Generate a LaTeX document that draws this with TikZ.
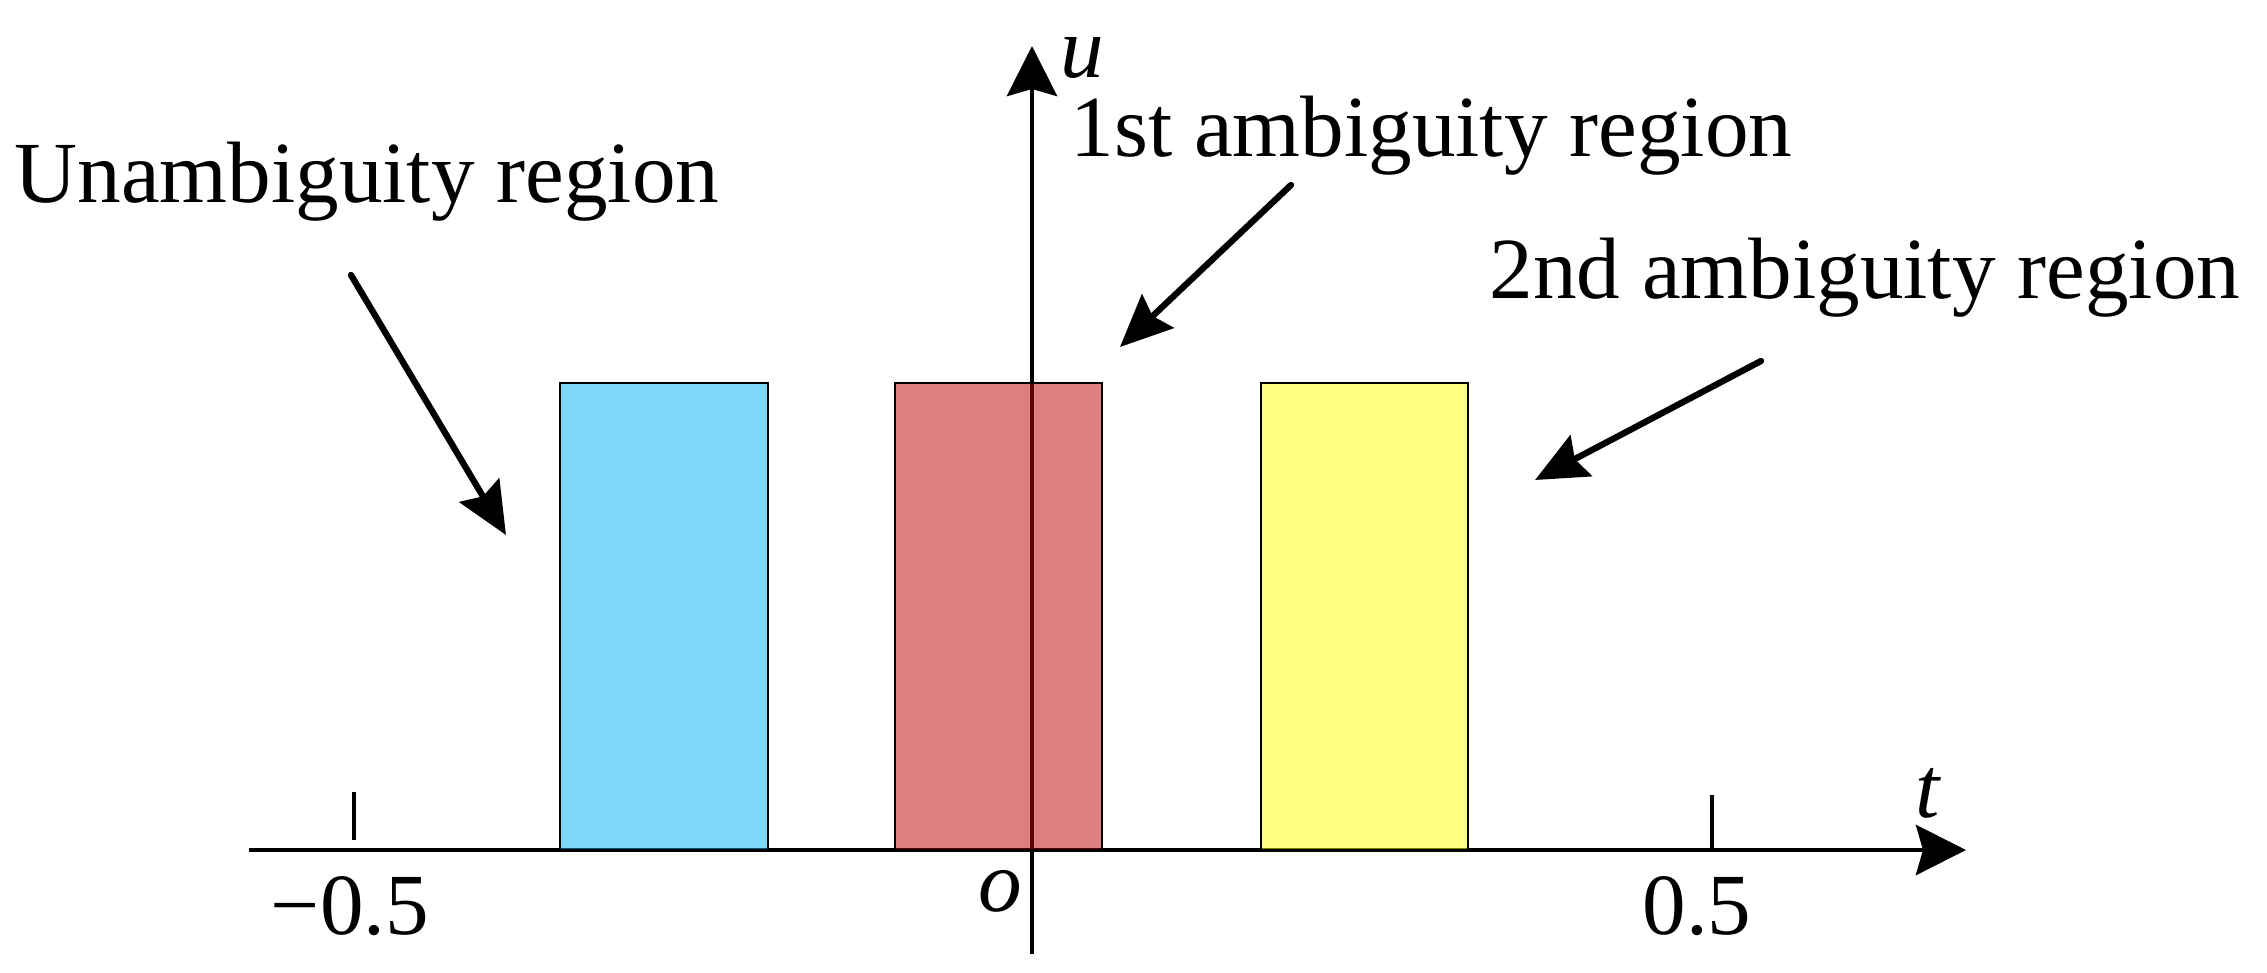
\documentclass[tikz,border=0pt]{standalone}
\usepackage{fontspec}
\setmainfont{Liberation Serif}
\usetikzlibrary{arrows.meta}

\definecolor{unambcol}{RGB}{0,177,239}
\definecolor{firstcol}{RGB}{193,0,0}
\definecolor{secondcol}{RGB}{255,255,0}

\tikzset{
	axisline/.style={line width=1.4pt, -{Stealth[length=0.5cm,width=0.5cm,inset=0.07cm]}},
	tickline/.style={line width=1.2pt},
	pointer/.style={line width=1.8pt, line cap=round, -{Stealth[length=0.52cm,width=0.46cm,inset=0.07cm]}},
	region/.style={draw=black, line width=0.5pt, fill opacity=0.5},
	lbl/.style={font=\fontsize{24.8}{29}\selectfont, inner sep=0pt},
}

\begin{document}
\begin{tikzpicture}
		\useasboundingbox (-10.32,-1.22) rectangle (12.35,8.50);

		% axes
		\coordinate (tstart) at (-7.83,0);
		\coordinate (tend) at (9.34,0);
		\coordinate (ustart) at (0,-1.04);
		\coordinate (uend) at (0,8.04);
		\draw[axisline] (tstart) -- (tend);
		\draw[axisline] (ustart) -- (uend);

		\draw[tickline] (-6.78,0.1) -- (-6.78,0.58);
		\draw[tickline] (6.80,0) -- (6.80,0.55);

		% regions
		\filldraw[region, fill=unambcol] (-4.72,0) rectangle (-2.64,4.67);
		\filldraw[region, fill=firstcol] (-1.37,0) rectangle (0.70,4.67);
		\filldraw[region, fill=secondcol] (2.29,0) rectangle (4.36,4.67);

		\node[lbl] (ulabel) at (0.50,7.92) {\textit{u}};
		\node[lbl] (tlabel) at (8.96,0.57) {\textit{t}};
		\node[lbl] (olabel) at (-0.32,-0.41) {\textit{o}};
		\node[lbl] (minushalf) at (-6.82,-0.56) {−0.5};
		\node[lbl] (plushalf) at (6.65,-0.56) {0.5};

		\node[lbl, anchor=base west] (unamb) at (-10.18,6.48) {Unambiguity region};
		\node[lbl, anchor=base west] (firstamb) at (0.38,6.94) {1st ambiguity region};
		\node[lbl, anchor=base west] (secondamb) at (4.57,5.52) {2nd ambiguity region};

		% pointers
		\coordinate (unambfrom) at (-6.81,5.75);
		\coordinate (unambto) at (-5.26,3.15);
		\coordinate (firstfrom) at (2.59,6.65);
		\coordinate (firstto) at (0.88,5.03);
		\coordinate (secondfrom) at (7.29,4.89);
		\coordinate (secondto) at (5.03,3.70);
		\draw[pointer] (unambfrom) -- (unambto);
		\draw[pointer] (firstfrom) -- (firstto);
		\draw[pointer] (secondfrom) -- (secondto);
	\end{tikzpicture}
\end{document}
